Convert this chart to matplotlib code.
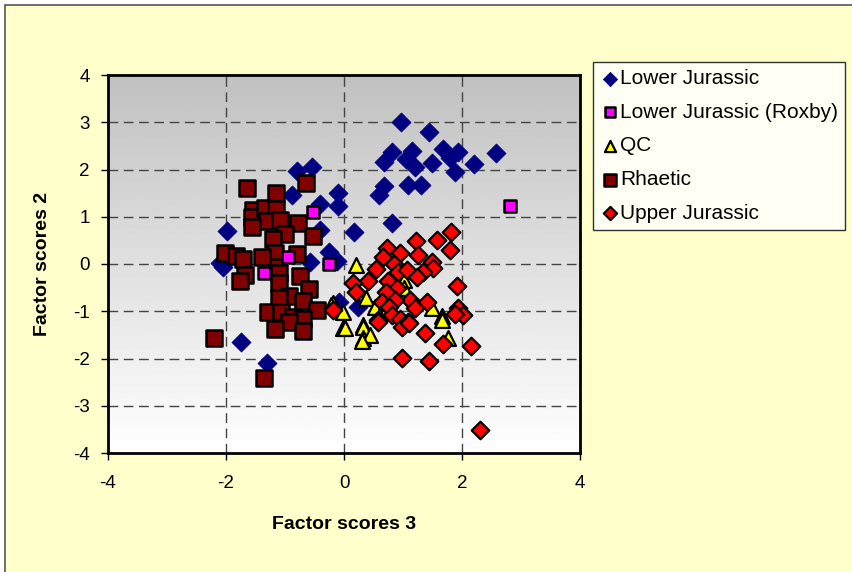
import numpy as np
import matplotlib
matplotlib.use("Agg")
from matplotlib import pyplot as plt
from matplotlib.patches import Rectangle

# данные (Factor scores 3, Factor scores 2)
lj_x = [0.96, 1.44, 0.82, 0.67, 1.16, 1.05, 1.21, 1.49, 1.67, 1.94, 1.79, 1.88, 2.21, 2.57,
        0.67, 0.59, 1.08, 1.31, 0.81, 0.17, -0.11, -0.10, -0.80, -0.54, -0.88, -0.41, -0.41,
        -1.99, -2.05, -2.10, -1.75, -1.31, -0.58, -0.25, -0.12, -0.08, 0.24]
lj_y = [3.00, 2.79, 2.36, 2.15, 2.40, 2.22, 2.06, 2.13, 2.43, 2.38, 2.24, 1.95, 2.12, 2.34,
        1.65, 1.46, 1.67, 1.67, 0.87, 0.67, 1.50, 1.23, 1.97, 2.05, 1.46, 1.27, 0.71,
        0.70, -0.06, 0.02, -1.66, -2.09, 0.05, 0.26, 0.07, -0.80, -0.92]

rox_x = [2.81, -0.53, -0.25, -1.35, -0.95]
rox_y = [1.23, 1.09, 0.00, -0.20, 0.15]

qc_x = [0.20, 1.02, 1.02, 0.37, 0.53, 1.49, 1.66, -0.01, -0.18, 0.33, 0.72, -0.01, 0.33,
        0.33, 0.44, 0.30, 1.77, 1.66, -0.22, 0.02]
qc_y = [-0.02, -0.34, -0.51, -0.73, -0.92, -0.94, -1.11, -1.01, -0.82, -1.29, -0.80, -1.36,
        -1.33, -1.57, -1.50, -1.64, -1.57, -1.18, -0.87, -1.35]

rh_x = [-1.64, -1.16, -0.64, -1.54, -1.56, -1.34, -1.15, -1.31, -1.56, -1.08, -0.78, -1.00,
        -0.53, -1.21, -1.17, -2.01, -1.83, -1.72, -1.39, -0.80, -1.12, -1.68, -1.10, -0.75,
        -1.76, -1.10, -0.59, -0.93, -1.11, -0.69, -0.46, -1.29, -1.06, -0.87, -0.69, -0.94,
        -1.17, -0.69, -2.20, -1.35]
rh_y = [1.60, 1.51, 1.71, 1.14, 1.00, 1.19, 1.16, 0.90, 0.79, 0.93, 0.86, 0.63,
        0.60, 0.53, 0.24, 0.23, 0.17, 0.10, 0.14, 0.21, -0.06, -0.23, -0.20, -0.25,
        -0.37, -0.40, -0.53, -0.67, -0.73, -0.78, -0.97, -1.01, -1.01, -1.12, -1.17, -1.22,
        -1.38, -1.42, -1.56, -2.42]

uj_x = [1.81, 1.57, 1.22, 1.80, 0.73, 0.95, 1.26, 0.66, 1.49, 0.84, 0.55, 0.92, 1.06, 1.51,
        1.34, 1.24, 0.40, 0.15, 0.75, 0.21, 0.89, 0.71, 1.91, 1.12, 1.40, 0.64, 0.86, 1.20,
        0.77, 1.94, 2.01, 1.88, 0.58, 0.81, 0.95, 1.09, -0.18, 0.98, 1.10, 1.38, 1.68, 2.15,
        0.99, 1.44, 2.31, 0.58]
uj_y = [0.68, 0.51, 0.49, 0.30, 0.33, 0.23, 0.20, 0.14, 0.05, 0.01, -0.11, -0.16, -0.13, -0.09,
        -0.16, -0.27, -0.35, -0.41, -0.37, -0.59, -0.51, -0.59, -0.47, -0.76, -0.80, -0.80, -0.76, -0.94,
        -0.92, -0.94, -1.08, -1.06, -1.19, -1.08, -1.17, -1.22, -0.97, -1.33, -1.24, -1.47, -1.69, -1.74,
        -1.98, -2.05, -3.51, -1.22]

ticks = [-4, -2, 0, 2, 4]
yticks = [-4, -3, -2, -1, 0, 1, 2, 3, 4]

plt.rcParams["axes.unicode_minus"] = False
plt.rcParams["font.family"] = ["Liberation Sans", "DejaVu Sans"]

fig = plt.figure(figsize=(8.52, 5.72), dpi=100, facecolor="white")
bg = Rectangle((5 / 852, -0.1), 1.1, 1 - 5 / 572 + 0.1, transform=fig.transFigure,
               facecolor="#FFFFCC", edgecolor="#555555", linewidth=1.2, zorder=-5)
fig.add_artist(bg)

ax = fig.add_axes([108 / 852, 1 - 453 / 572, 472 / 852, 378 / 572])
ax.set_zorder(1)
ax.set_xlim(-4, 4)
ax.set_ylim(-4, 4)

# градиент фона
grad = np.linspace(1, 0, 256).reshape(-1, 1)
ax.imshow(grad, extent=[-4, 4, -4, 4], aspect="auto", cmap="gray", vmin=-3.1, vmax=1,
          origin="lower", zorder=0)

for t in ticks[1:-1]:
    ax.axvline(t, color="#444444", lw=1, ls=(0, (7, 4)), zorder=1)
for t in yticks[1:-1]:
    ax.axhline(t, color="#444444", lw=1, ls=(0, (7, 4)), zorder=1)

ax.scatter(lj_x, lj_y, marker="D", s=95, c="#000080", edgecolors="#000080", lw=0.5,
           label="Lower Jurassic", zorder=3)
ax.scatter(rox_x, rox_y, marker="s", s=85, c="#FF00FF", edgecolors="black", lw=1.8,
           label="Lower Jurassic (Roxby)", zorder=4)
ax.scatter(qc_x, qc_y, marker="^", s=115, c="#FFFF00", edgecolors="black", lw=1.6,
           label="QC", zorder=3)
ax.scatter(rh_x, rh_y, marker="s", s=125, c="#800000", edgecolors="black", lw=1.8,
           label="Rhaetic", zorder=3)
ax.scatter(uj_x, uj_y, marker="D", s=80, c="#FF0000", edgecolors="black", lw=1.6,
           label="Upper Jurassic", zorder=3)

ax.set_xticks(ticks)
ax.set_yticks(yticks)
ax.tick_params(direction="out", length=5, width=1, labelsize=13.5)
ax.tick_params(axis="x", pad=11)
ax.tick_params(axis="y", pad=8)
for s in ax.spines.values():
    s.set_linewidth(2)

ax.set_xlabel("Factor scores 3", fontsize=14, fontweight="bold", labelpad=17)
ax.set_ylabel("Factor scores 2", fontsize=14, fontweight="bold", labelpad=16)

leg = ax.legend(loc="upper left", bbox_to_anchor=(593 / 852, 1 - 62 / 572),
                bbox_transform=fig.transFigure, frameon=True, fancybox=False,
                prop={"size": 15}, handletextpad=0.05, handlelength=0.9,
                labelspacing=0.7, borderpad=0.35, borderaxespad=0, markerscale=0.75)
leg.get_frame().set_edgecolor("black")
leg.get_frame().set_linewidth(1)

fig.savefig("out.png", dpi=100, facecolor=fig.get_facecolor())
